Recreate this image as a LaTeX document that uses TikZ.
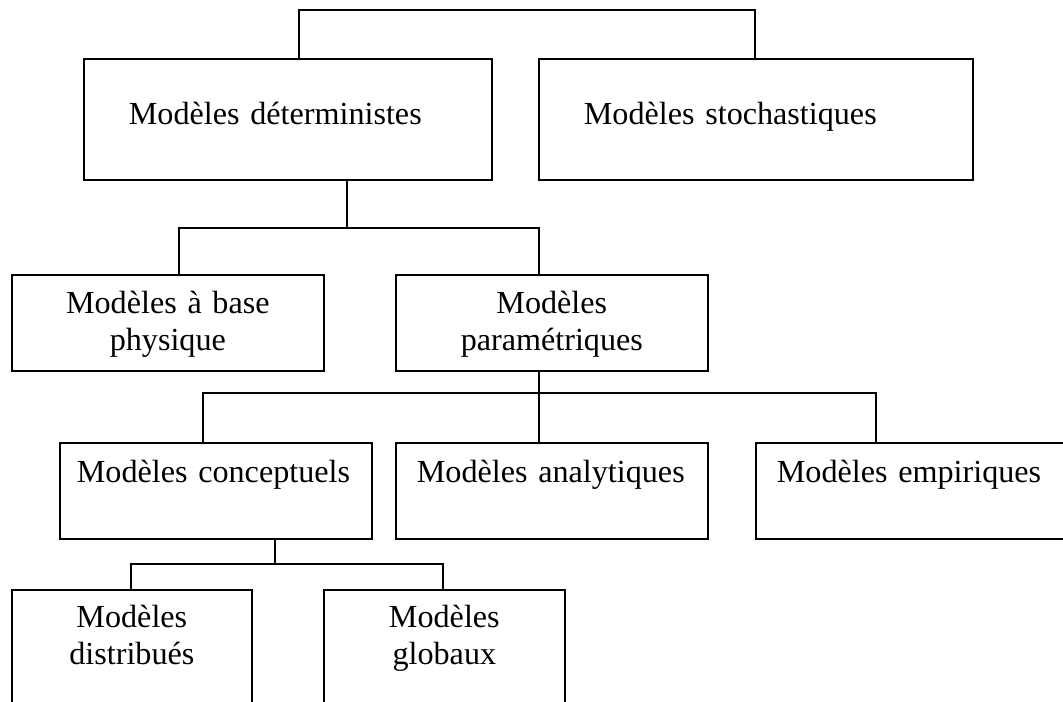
\documentclass[tikz,border=0pt]{standalone}
\usepackage{fontspec}
\setmainfont{Liberation Serif}
\usepackage{tikz}
\newcommand{\boxfont}{\fontsize{18.3}{21}\selectfont}
\tikzset{
  box/.style={draw, anchor=north west, inner ysep=0pt, font=\boxfont},
  wbox/.style={box, align=left, inner xsep=0.9cm, text height=1.32cm, text depth=1.1cm},
  tbox/.style={box, align=center, inner xsep=0pt, text width=6.24cm, text height=0.78cm, text depth=1.14cm},
  rbox/.style={box, align=left, inner xsep=0.42cm, text height=0.8cm, text depth=1.12cm},
  lbox/.style={box, align=center, inner xsep=0pt, text width=4.8cm, text height=0.76cm, text depth=2.04cm}
}

\begin{document}
\begin{tikzpicture}[x=0.02cm, y=-0.02cm, line width=1pt]
\useasboundingbox (0,0) rectangle (1063,702);
\clip (0,0) rectangle (1063,702);
% boxes
\node[wbox, text width=6.36cm] (det) at (83,58) {Modèles déterministes};
\node[wbox, text width=6.88cm] (sto) at (538,58) {Modèles stochastiques};
\node[tbox] (phy) at (11,274) {Modèles à base\\physique};
\node[tbox] (par) at (395,274) {Modèles\\paramétriques};
\node[rbox, inner xsep=0.34cm, text width=5.56cm] (con) at (59,442) {Modèles conceptuels};
\node[rbox, text width=5.4cm] (ana) at (395,442) {Modèles analytiques};
\node[rbox, text width=5.56cm] (emp) at (755,442) {Modèles empiriques};
\node[lbox] (dis) at (11,589) {Modèles\\distribués};
\node[lbox, text width=4.82cm] (glo) at (323,589) {Modèles\\globaux};
% connectors
\coordinate (t1) at (299,10); \coordinate (t2) at (755,10);
\draw (t1 |- det.north) -- (t1) -- (t2) -- (t2 |- sto.north);
\coordinate (b0) at (347,228); \coordinate (b1) at (179,228); \coordinate (b2) at (539,228);
\draw (b0 |- det.south) -- (b0);
\draw (b1 |- phy.north) -- (b1) -- (b2) -- (b2 |- par.north);
\coordinate (c0) at (539,393); \coordinate (c1) at (203,393); \coordinate (c2) at (876,393);
\draw (c0 |- par.south) -- (c0 |- ana.north);
\draw (c1 |- con.north) -- (c1) -- (c2) -- (c2 |- emp.north);
\coordinate (d0) at (275,564); \coordinate (d1) at (131,564); \coordinate (d2) at (443,564);
\draw (d0 |- con.south) -- (d0);
\draw (d1 |- dis.north) -- (d1) -- (d2) -- (d2 |- glo.north);
\end{tikzpicture}
\end{document}
